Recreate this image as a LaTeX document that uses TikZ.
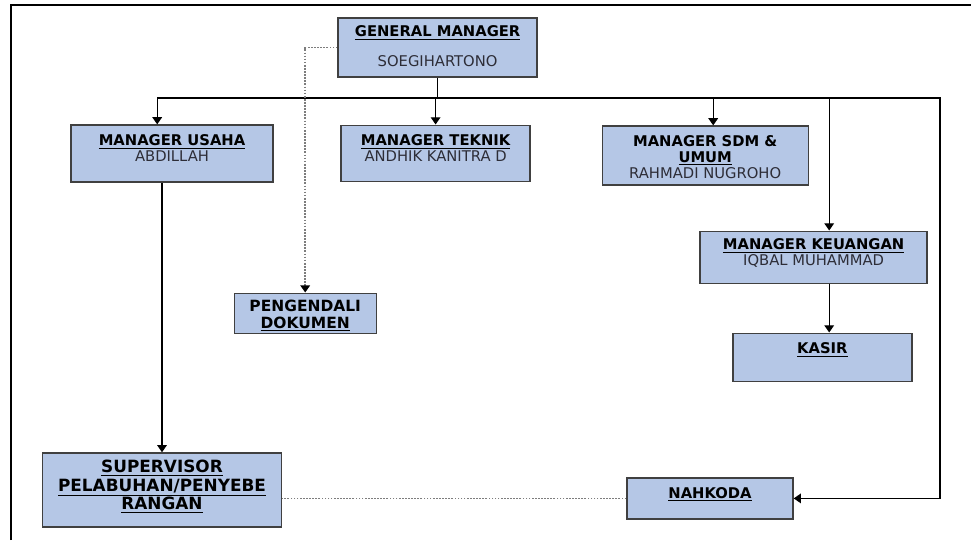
\documentclass[tikz,border=0pt]{standalone}
\usepackage{fontspec}
\setmainfont{DejaVu Sans}
\usetikzlibrary{positioning,arrows.meta,calc}
\definecolor{BoxFill}{RGB}{181,199,230}
\definecolor{BoxLine}{RGB}{64,64,64}
\definecolor{NameGray}{RGB}{45,45,55}
\definecolor{DotGray}{RGB}{125,125,125}
\newcommand{\head}[1]{\textcolor{black}{\textbf{\underline{#1}}}}

\begin{document}
\begin{tikzpicture}[
    unit/.style={rectangle,draw=BoxLine,fill=BoxFill,line width=1pt,inner sep=0pt},
    caption/.style={anchor=north,align=center,inner sep=0pt,yshift=-0.25cm,font=\fontsize{10.5}{11.2}\selectfont,text=NameGray},
    arrow/.style={-{Triangle[length=1.8mm,width=2.4mm]},line width=0.9pt},
    dots/.style={DotGray,densely dotted,line width=1.2pt},
    dotarrow/.style={dots,-{Triangle[length=1.8mm,width=2.4mm,black]}}
]
\useasboundingbox (0,0) rectangle (24.275,-13.5);

% Page frame
\draw[line width=1.8pt] (0.27,-13.5) -- (0.27,-0.13) -- (24.275,-0.13);

% General manager
\node[unit,minimum width=4.975cm,minimum height=1.475cm,
  label={[caption,yshift=0.05cm]north:{\head{GENERAL MANAGER}\\[0.36cm]SOEGIHARTONO}}] (gm) at (10.94,-1.19) {};

% Managers
\node[unit,minimum width=5.05cm,minimum height=1.425cm,
  label={[caption]north:{\head{MANAGER USAHA}\\ABDILLAH}}] (usaha) at (4.30,-3.84) {};
\node[unit,minimum width=4.725cm,minimum height=1.4cm,
  label={[caption]north:{\head{MANAGER TEKNIK}\\ANDHIK KANITRA D}}] (teknik) at (10.89,-3.83) {};
\node[unit,minimum width=5.15cm,minimum height=1.475cm,
  label={[caption]north:{\textcolor{black}{\textbf{MANAGER SDM \&}}\\\head{UMUM}\\RAHMADI NUGROHO}}] (sdm) at (17.63,-3.89) {};
\node[unit,minimum width=5.675cm,minimum height=1.3cm,
  label={[caption,yshift=0.05cm]north:{\head{MANAGER KEUANGAN}\\IQBAL MUHAMMAD}}] (keuangan) at (20.34,-6.43) {};
\node[unit,minimum width=4.475cm,minimum height=1.2cm,
  label={[caption]north:{\head{KASIR}}}] (kasir) at (20.56,-8.93) {};

% Staff
\node[unit,minimum width=3.55cm,minimum height=1cm,
  label={[caption,yshift=0.07cm,font=\fontsize{11}{12}\selectfont]north:{\textcolor{black}{\textbf{PENGENDALI}}\\\head{DOKUMEN}}}] (dokumen) at (7.63,-7.83) {};
\node[unit,minimum width=5.975cm,minimum height=1.85cm,
  label={[caption,yshift=0.06cm,font=\fontsize{12}{13.2}\selectfont]north:{\head{SUPERVISOR}\\\head{PELABUHAN/PENYEBE}\\\head{RANGAN}}}] (supervisor) at (4.05,-12.25) {};
\node[unit,minimum width=4.15cm,minimum height=1.025cm,
  label={[caption]north:{\head{NAHKODA}}}] (nahkoda) at (17.75,-12.46) {};

% Bus line
\coordinate (bus-left) at (3.93,-2.45);
\coordinate (bus-right) at (23.5,-2.45);
\coordinate (sdm-in) at ([xshift=0.2cm]sdm.north);
\coordinate (keu-in) at ([xshift=0.39cm]keuangan.north);
\coordinate (keu-out) at ([xshift=0.39cm]keuangan.south);

\draw[line width=0.9pt] (gm.south) -- (gm.south |- bus-left);
\draw[arrow] (bus-left) -- (bus-right) |- (nahkoda.east);
\draw[arrow] (bus-left) -- (bus-left |- usaha.north);
\draw[arrow] (teknik.north |- bus-left) -- (teknik.north);
\draw[arrow] (sdm-in |- bus-left) -- (sdm-in);
\draw[arrow] (keu-in |- bus-left) -- (keu-in);
\draw[arrow] (keu-out) -- (keu-out |- kasir.north);
\draw[arrow] (supervisor.north |- usaha.south) -- (supervisor.north);

% Dotted lines
\draw[dotarrow] (gm.west) -| (dokumen.north);
\draw[dots] (nahkoda.west) -- (nahkoda.west -| supervisor.east);

\end{tikzpicture}
\end{document}
